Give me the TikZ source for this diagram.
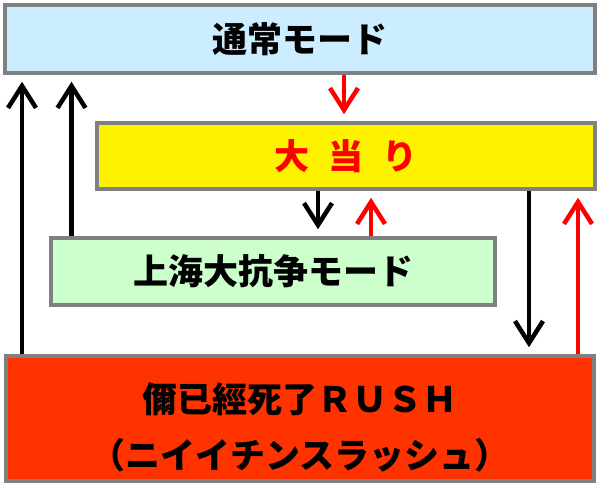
\documentclass[tikz,border=0pt]{standalone}
\usepackage{fontspec}
\newfontfamily\jpfont{Noto Sans CJK JP}
\usetikzlibrary{arrows.meta}
\definecolor{boxgray}{RGB}{128,128,128}
\definecolor{normalblue}{RGB}{204,236,255}
\definecolor{hitred}{RGB}{255,0,0}
\definecolor{modegreen}{RGB}{204,255,204}
\definecolor{rushred}{RGB}{255,51,0}
\begin{document}
\begin{tikzpicture}[x=1pt,y=-1pt,
    box/.style={draw=boxgray,line width=3.5pt,inner sep=0pt,align=center,
        font=\jpfont\bfseries\fontsize{35}{56}\selectfont},
    arr/.style={line width=4.5pt,-{Straight Barb[length=22pt,width=28pt]},shorten >=7pt}]
\useasboundingbox (0,0) rectangle (600,489);
\node[box,fill=normalblue,minimum width=590pt,minimum height=68pt] (normal) at (300,39) {通常モード};
\node[box,fill=yellow,text=hitred,minimum width=498pt,minimum height=66pt] (hit) at (346,156) {大\hspace{.55em}当\hspace{.55em}り};
\node[box,fill=modegreen,minimum width=444pt,minimum height=67pt] (shanghai) at (273,271.5) {上海大抗争モード};
\node[box,fill=rushred,minimum width=588pt,minimum height=125pt] (rush) at (300,418.5) {\rule{0pt}{48pt}儞已經死了ＲＵＳＨ\\（ニイイチンスラッシュ）};
\foreach \x/\a/\b/\c in {344/normal/hit/hitred,318/hit/shanghai/black,529/hit/rush/black}
    \draw[arr,\c] (\a.south -| \x,0) -- (\b.north -| \x,0);
\foreach \x/\a/\b/\c in {371/shanghai/hit/hitred,578/rush/hit/hitred,22/rush/normal/black,71.5/shanghai/normal/black}
    \draw[arr,\c] (\a.north -| \x,0) -- (\b.south -| \x,0);
\end{tikzpicture}
\end{document}
